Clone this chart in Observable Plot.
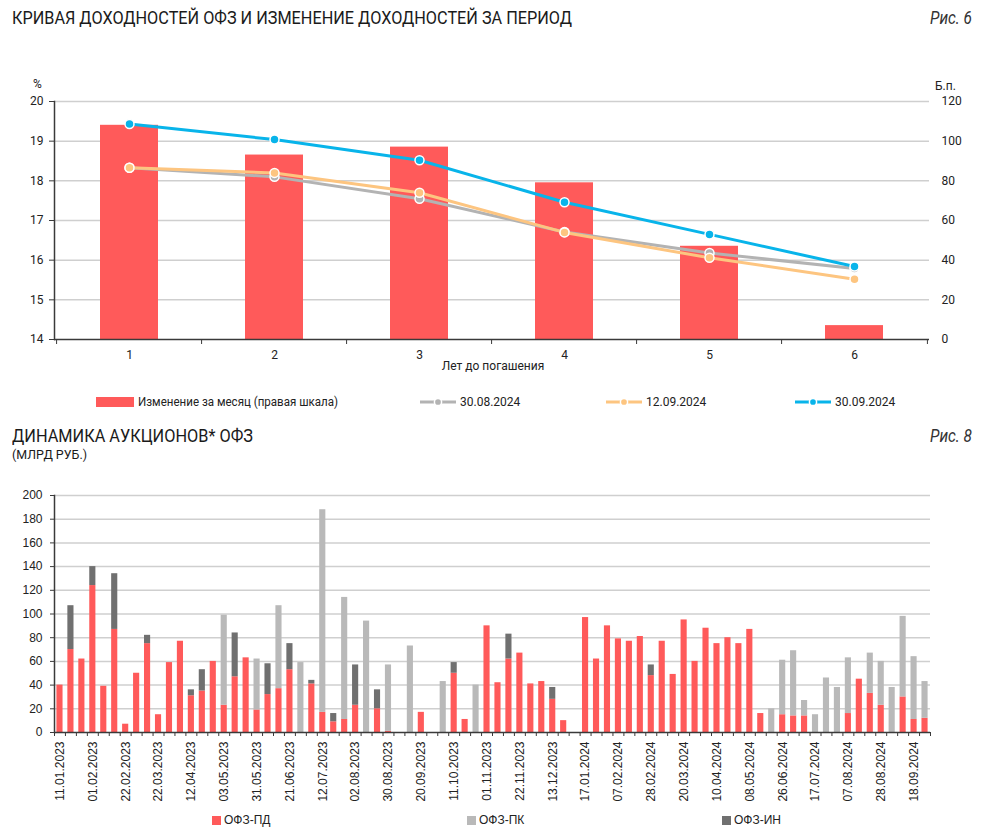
<!DOCTYPE html>
<html><head><meta charset="utf-8">
<script src="https://cdn.jsdelivr.net/npm/d3@7"></script>
<script src="https://cdn.jsdelivr.net/npm/@observablehq/plot@0.6"></script>
<style>
body{margin:0;background:#fff;font-family:Roboto,"Liberation Sans",sans-serif;color:#222}
#root{position:relative;width:992px;height:840px;overflow:hidden}
.abs{position:absolute;white-space:nowrap}
.fit{transform-origin:0 50%;display:inline-block}
.title{font-size:18px;line-height:20px;color:#1a1a1a}
.fig{font-size:18px;line-height:20px;font-style:italic;color:#333}
.small{font-size:12px;line-height:14px;color:#222}
.leg{font-size:12px;line-height:14px;display:flex;align-items:center;gap:4px}
.leg2{font-family:"Liberation Sans",Arial,sans-serif;font-size:12px;display:flex;align-items:center;gap:3px}
</style></head>
<body>
<div id="root">
  <div class="abs title fit" data-w="560" style="left:12px;top:8px">КРИВАЯ ДОХОДНОСТЕЙ ОФЗ И ИЗМЕНЕНИЕ ДОХОДНОСТЕЙ ЗА ПЕРИОД</div>
  <div class="abs fig fit" data-w="42" style="left:930px;top:8px">Рис. 6</div>
  <div class="abs small" style="left:33px;top:77px">%</div>
  <div class="abs small" style="left:935px;top:79px">Б.п.</div>
  <div id="c1" class="abs" style="left:0;top:60px"></div>
  <div class="abs small" style="left:0;width:986px;text-align:center;top:359px">Лет до погашения</div>
  <div id="leg1"></div>
  <div class="abs title fit" data-w="241" style="left:12px;top:426px">ДИНАМИКА АУКЦИОНОВ* ОФЗ</div>
  <div class="abs fig fit" data-w="42" style="left:930px;top:426px">Рис. 8</div>
  <div class="abs fit" data-w="75" style="left:12px;top:447px;font-size:13px;line-height:15px;color:#1a1a1a">(МЛРД РУБ.)</div>
  <div id="c2" class="abs" style="left:0;top:470px"></div>
  <div id="leg2"></div>
</div>
<script>
// ---------- Chart 1 data ----------
const maturities = [1, 2, 3, 4, 5, 6];
const changeBp = [108, 93, 97, 79, 47, 7];
const curve300824 = [18.33, 18.10, 17.55, 16.71, 16.18, 15.79];
const curve120924 = [18.33, 18.20, 17.70, 16.70, 16.06, 15.52];
const curve300924 = [19.43, 19.04, 18.52, 17.46, 16.65, 15.84];
const curveNames = ["30.08.2024", "12.09.2024", "30.09.2024"];
const barName = "Изменение за месяц (правая шкала)";
const pctTicks = [14, 15, 16, 17, 18, 19, 20];
const bpTicks = [0, 20, 40, 60, 80, 100, 120];

// ---------- Chart 2 data ----------
const auctionDates = [
 "11.01.2023","18.01.2023","25.01.2023","01.02.2023","08.02.2023","15.02.2023","22.02.2023","01.03.2023","15.03.2023","22.03.2023",
 "29.03.2023","05.04.2023","12.04.2023","19.04.2023","26.04.2023","03.05.2023","17.05.2023","24.05.2023","31.05.2023","07.06.2023",
 "14.06.2023","21.06.2023","28.06.2023","05.07.2023","12.07.2023","19.07.2023","26.07.2023","02.08.2023","09.08.2023","16.08.2023",
 "30.08.2023","06.09.2023","13.09.2023","20.09.2023","27.09.2023","04.10.2023","11.10.2023","18.10.2023","25.10.2023","01.11.2023",
 "08.11.2023","15.11.2023","22.11.2023","29.11.2023","06.12.2023","13.12.2023","20.12.2023","10.01.2024","17.01.2024","24.01.2024",
 "31.01.2024","07.02.2024","14.02.2024","21.02.2024","28.02.2024","06.03.2024","13.03.2024","20.03.2024","27.03.2024","03.04.2024",
 "10.04.2024","17.04.2024","24.04.2024","08.05.2024","15.05.2024","19.06.2024","26.06.2024","03.07.2024","10.07.2024","17.07.2024",
 "24.07.2024","31.07.2024","07.08.2024","14.08.2024","21.08.2024","28.08.2024","04.09.2024","11.09.2024","18.09.2024","25.09.2024"
];
const ofzPD = [
 40,70,62,124,39,87,7,50,75,15,
 59,77,31,35,60,23,47,63,19,32,
 37,53,0,41,17,9,11,23,0,20,
 1,0,0,17,0,0,50,11,0,90,
 42,62,67,41,43,28,10,0,97,62,
 90,79,77,81,48,77,49,95,60,88,
 75,80,75,87,16,0,15,14,14,0,
 0,0,16,45,33,23,0,30,11,12
];
const ofzPK = [
 0,0,0,0,0,0,0,0,0,0,
 0,0,0,0,0,76,0,0,43,0,
 70,0,59,0,171,0,103,0,94,0,
 56,0,73,0,0,43,0,0,40,0,
 0,0,0,0,0,0,0,0,0,0,
 0,0,0,0,0,0,0,0,0,0,
 0,0,0,0,0,20,46,55,13,15,
 46,38,47,0,34,37,38,68,53,31
];
const ofzIN = [
 0,37,0,16,0,47,0,0,7,0,
 0,0,5,18,0,0,37,0,0,26,
 0,22,0,3,0,7,0,34,0,16,
 0,0,0,0,0,0,9,0,0,0,
 0,21,0,0,0,10,0,0,0,0,
 0,0,0,0,9,0,0,0,0,0,
 0,0,0,0,0,0,0,0,0,0,
 0,0,0,0,0,0,0,0,0,0
];
const tickDates = [
 "11.01.2023","01.02.2023","22.02.2023","22.03.2023","12.04.2023","03.05.2023","31.05.2023","21.06.2023","12.07.2023",
 "02.08.2023","30.08.2023","20.09.2023","11.10.2023","01.11.2023","22.11.2023","13.12.2023","17.01.2024","07.02.2024",
 "28.02.2024","20.03.2024","10.04.2024","08.05.2024","26.06.2024","17.07.2024","07.08.2024","28.08.2024","18.09.2024"
];
const auctionTypes = ["ОФЗ-ПД", "ОФЗ-ПК", "ОФЗ-ИН"];
const y2Ticks = [0, 20, 40, 60, 80, 100, 120, 140, 160, 180, 200];

// colours
const RED = "#ff5a5a", GRAY = "#b3b3b3", ORANGE = "#fdc580", BLUE = "#08b4ea";
const curveColors = [GRAY, ORANGE, BLUE];
const typeColors = ["#ff5a5a", "#b9b9b9", "#707070"];
const AX = "#3a3a3a", GRID = "#cfcfcf";

// ---------- Chart 1 ----------
const W = 992;
const ml1 = 54, mr1 = 63;
const step1 = (W - ml1 - mr1) / maturities.length;
const bars1 = maturities.map((m, i) => ({m, bp: changeBp[i]}));
const curves = [curve300824, curve120924, curve300924];
const bpToPct = b => 14 + b / 20;

const lineMarks = [];
curves.forEach((c, s) => {
  const d = maturities.map((m, i) => ({m, v: c[i]}));
  lineMarks.push(Plot.line(d, {x: "m", y: "v", stroke: curveColors[s], strokeWidth: 3}));
  lineMarks.push(Plot.dot(d, {x: "m", y: "v", fill: curveColors[s], stroke: "white", strokeWidth: 1.5, r: 4.5}));
});

const chart1 = Plot.plot({
  width: W, height: 320,
  marginTop: 41, marginBottom: 41, marginLeft: ml1, marginRight: mr1,
  style: {fontFamily: "Roboto, sans-serif", fontSize: "12px", color: "#222", background: "transparent", overflow: "visible"},
  x: {type: "band", domain: maturities, paddingInner: 0.6, paddingOuter: 0.3, axis: null, label: null},
  y: {domain: [14, 20], axis: null, label: null},
  marks: [
    Plot.gridY(pctTicks.slice(1), {stroke: GRID, strokeOpacity: 1, strokeWidth: 1.5}),
    Plot.barY(bars1, {x: "m", y1: () => 14, y2: d => bpToPct(d.bp), fill: RED}),
    ...lineMarks,
    Plot.ruleY([14], {stroke: AX, strokeWidth: 1.5}),
    Plot.frame({anchor: "left", stroke: AX, strokeWidth: 1.5}),
    Plot.axisY(pctTicks, {anchor: "left", label: null, tickSize: 5, tickPadding: 6, stroke: AX}),
    Plot.axisY(bpTicks.map(bpToPct), {anchor: "right", label: null, tickSize: 0, tickPadding: 12, tickFormat: d => Math.round((d - 14) * 20)}),
    Plot.axisX(maturities, {label: null, tickSize: 0, tickPadding: 11}),
    Plot.axisX(maturities, {label: null, tickSize: 5, tickFormat: () => "", dx: -step1 / 2, stroke: AX}),
    Plot.axisX([maturities[maturities.length - 1]], {label: null, tickSize: 5, tickFormat: () => "", dx: step1 / 2, stroke: AX})
  ]
});
document.getElementById("c1").appendChild(chart1);

// legend 1
const leg1 = document.getElementById("leg1");
function addAbs(parent, html, left, top, cls) {
  const el = document.createElement("div");
  el.className = "abs " + (cls || "");
  el.style.left = left + "px"; el.style.top = top + "px";
  el.innerHTML = html;
  parent.appendChild(el);
  return el;
}
addAbs(leg1, `<span style="display:inline-block;width:38px;height:10px;background:${RED}"></span><span class="fit" data-w="200">${barName}</span>`, 96, 395, "leg");
const legX = [420, 606, 795];
curveNames.forEach((n, i) => {
  const c = curveColors[i];
  const sw = `<svg width="36" height="10"><line x1="0" y1="5" x2="36" y2="5" stroke="${c}" stroke-width="3"/><circle cx="18" cy="5" r="3.6" fill="${c}" stroke="white" stroke-width="1.5"/></svg>`;
  addAbs(leg1, sw + `<span>${n}</span>`, legX[i], 395, "leg");
});

// ---------- Chart 2 ----------
const ml2 = 54, mr2 = 62;
const step2 = (W - ml2 - mr2) / auctionDates.length;
const long2 = [];
auctionDates.forEach((d, i) => {
  long2.push({date: d, type: auctionTypes[0], v: ofzPD[i]});
  long2.push({date: d, type: auctionTypes[1], v: ofzPK[i]});
  long2.push({date: d, type: auctionTypes[2], v: ofzIN[i]});
});

const chart2 = Plot.plot({
  width: W, height: 340,
  marginTop: 25, marginBottom: 78, marginLeft: ml2, marginRight: mr2,
  style: {fontFamily: "'Liberation Sans', Arial, sans-serif", fontSize: "12px", color: "#222", background: "transparent", overflow: "visible"},
  x: {type: "band", domain: auctionDates, paddingInner: 0.44, paddingOuter: 0.22, axis: null, label: null},
  y: {domain: [0, 200], axis: null, label: null},
  color: {domain: auctionTypes, range: typeColors},
  marks: [
    Plot.gridY(y2Ticks.slice(1), {stroke: GRID, strokeOpacity: 1, strokeWidth: 1.5}),
    Plot.barY(long2, {x: "date", y: "v", fill: "type", order: auctionTypes}),
    Plot.ruleY([0], {stroke: AX, strokeWidth: 1.5}),
    Plot.frame({anchor: "left", stroke: AX, strokeWidth: 1.5}),
    Plot.axisY(y2Ticks, {anchor: "left", label: null, tickSize: 4, tickPadding: 8, stroke: AX}),
    Plot.axisX(tickDates, {label: null, tickSize: 0, tickRotate: -90, tickPadding: 9}),
    Plot.axisX(auctionDates, {label: null, tickSize: 4, tickFormat: () => "", dx: -step2 / 2, stroke: AX}),
    Plot.axisX([auctionDates[auctionDates.length - 1]], {label: null, tickSize: 4, tickFormat: () => "", dx: step2 / 2, stroke: AX})
  ]
});
document.getElementById("c2").appendChild(chart2);

// legend 2
const leg2 = document.getElementById("leg2");
const leg2X = [212, 467, 722];
auctionTypes.forEach((t, i) => {
  addAbs(leg2, `<span style="display:inline-block;width:9px;height:9px;background:${typeColors[i]}"></span><span>${t}</span>`, leg2X[i], 813, "leg2");
});

// fit condensed titles to their widths
document.querySelectorAll(".fit").forEach(el => {
  const target = +el.dataset.w;
  const w = el.getBoundingClientRect().width;
  if (w > 0) el.style.transform = `scaleX(${target / w})`;
});
</script>
</body></html>
